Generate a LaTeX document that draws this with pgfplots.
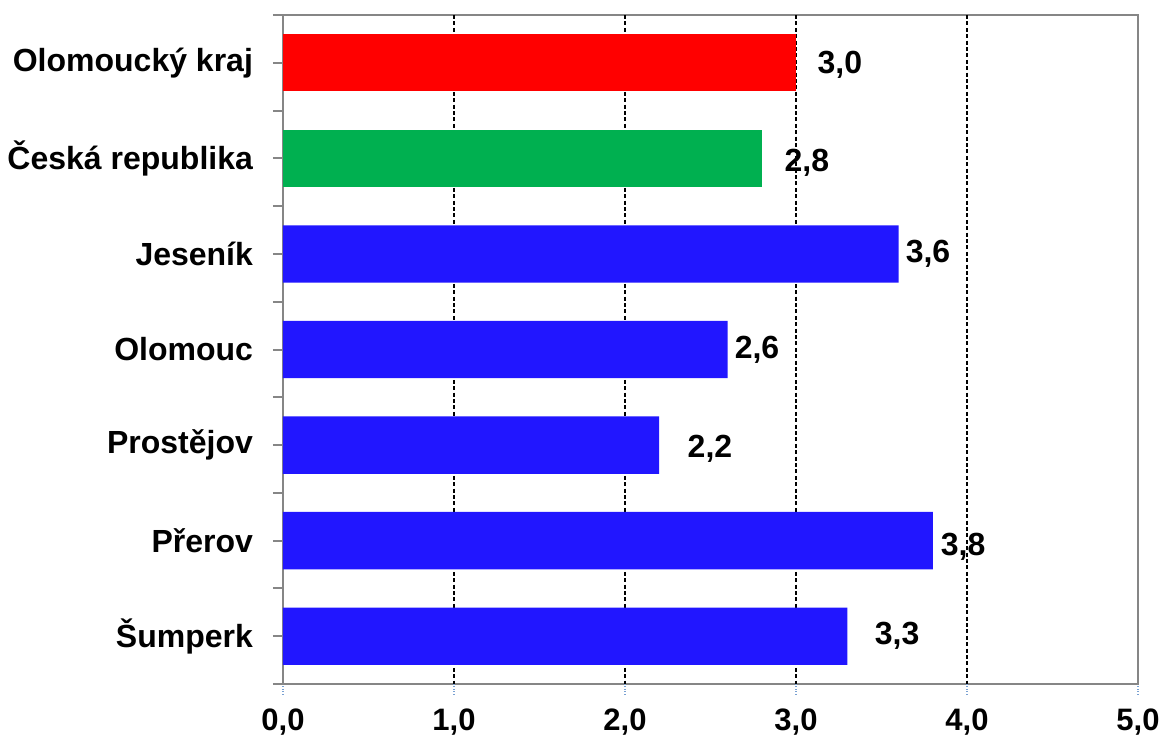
\documentclass[border=0pt]{standalone}
\usepackage{pgfplots}
\pgfplotsset{compat=1.18}
\usepackage{fontspec}
\setmainfont{Liberation Sans}
\definecolor{barred}{RGB}{255,0,0}
\definecolor{bargreen}{RGB}{0,176,80}
\definecolor{barblue}{RGB}{33,22,255}
\definecolor{axgray}{RGB}{134,134,134}
\definecolor{tickblue}{RGB}{120,160,210}
\begin{document}
\begin{tikzpicture}
\useasboundingbox (-141.5pt,-26.5pt) rectangle (441.5pt,342pt);
\begin{axis}[
  at={(0,0)}, anchor=south west,
  scale only axis, width=427.5pt, height=334.5pt,
  xmin=0, xmax=5, ymin=-0.5, ymax=6.5, y dir=reverse,
  axis line style={draw=axgray, line width=1pt},
  xtick pos=bottom, ytick pos=left,
  xtick={0,1,2,3,4,5},
  xticklabels={{0,0},{1,0},{2,0},{3,0},{4,0},{5,0}},
  xticklabel style={font=\fontsize{15.5pt}{18pt}\selectfont\bfseries, yshift=-4pt},
  xtick style={draw=tickblue, densely dotted, line width=0.8pt},
  tick align=outside, major tick length=5pt,
  extra x ticks={1,2,3,4},
  extra x tick labels={},
  extra x tick style={grid=major, tick style={draw=none}},
  grid style={black, dash pattern=on 2pt off 1.2pt, line width=0.6pt},
  ytick={-0.5,0.5,...,6.5},
  yticklabels={},
  ytick style={draw=axgray, line width=1pt},
  extra y ticks={0,1,2,3,4,5,6},
  extra y tick labels={Olomoucký kraj,Česká republika,Jeseník,Olomouc,Prostějov,Přerov,Šumperk},
  extra y tick style={tick style={draw=none}, grid=none},
  yticklabel style={font=\fontsize{16pt}{19pt}\selectfont\bfseries, xshift=-6.5pt},
  clip=false,
]
\addplot[xbar, bar width=0.6, bar shift=0pt, fill=barred, draw=none] coordinates {(3.0,0)};
\addplot[xbar, bar width=0.6, bar shift=0pt, fill=bargreen, draw=none] coordinates {(2.8,1)};
\addplot[xbar, bar width=0.6, bar shift=0pt, fill=barblue, draw=none] coordinates {(3.6,2) (2.6,3) (2.2,4) (3.8,5) (3.3,6)};
\addplot[draw=none, mark=none, nodes near coords, point meta=explicit symbolic,
  every node near coord/.append style={anchor=center, text=black, font=\fontsize{16pt}{19pt}\selectfont\bfseries}]
  table[meta=lab] {
x y lab
3.257 0.02 {3,0}
3.064 1.05 {2,8}
3.772 2.0 {3,6}
2.772 3.0 {2,6}
2.497 4.04 {2,2}
3.977 5.06 {3,8}
3.591 6.0 {3,3}
};
\end{axis}
\end{tikzpicture}
\end{document}
